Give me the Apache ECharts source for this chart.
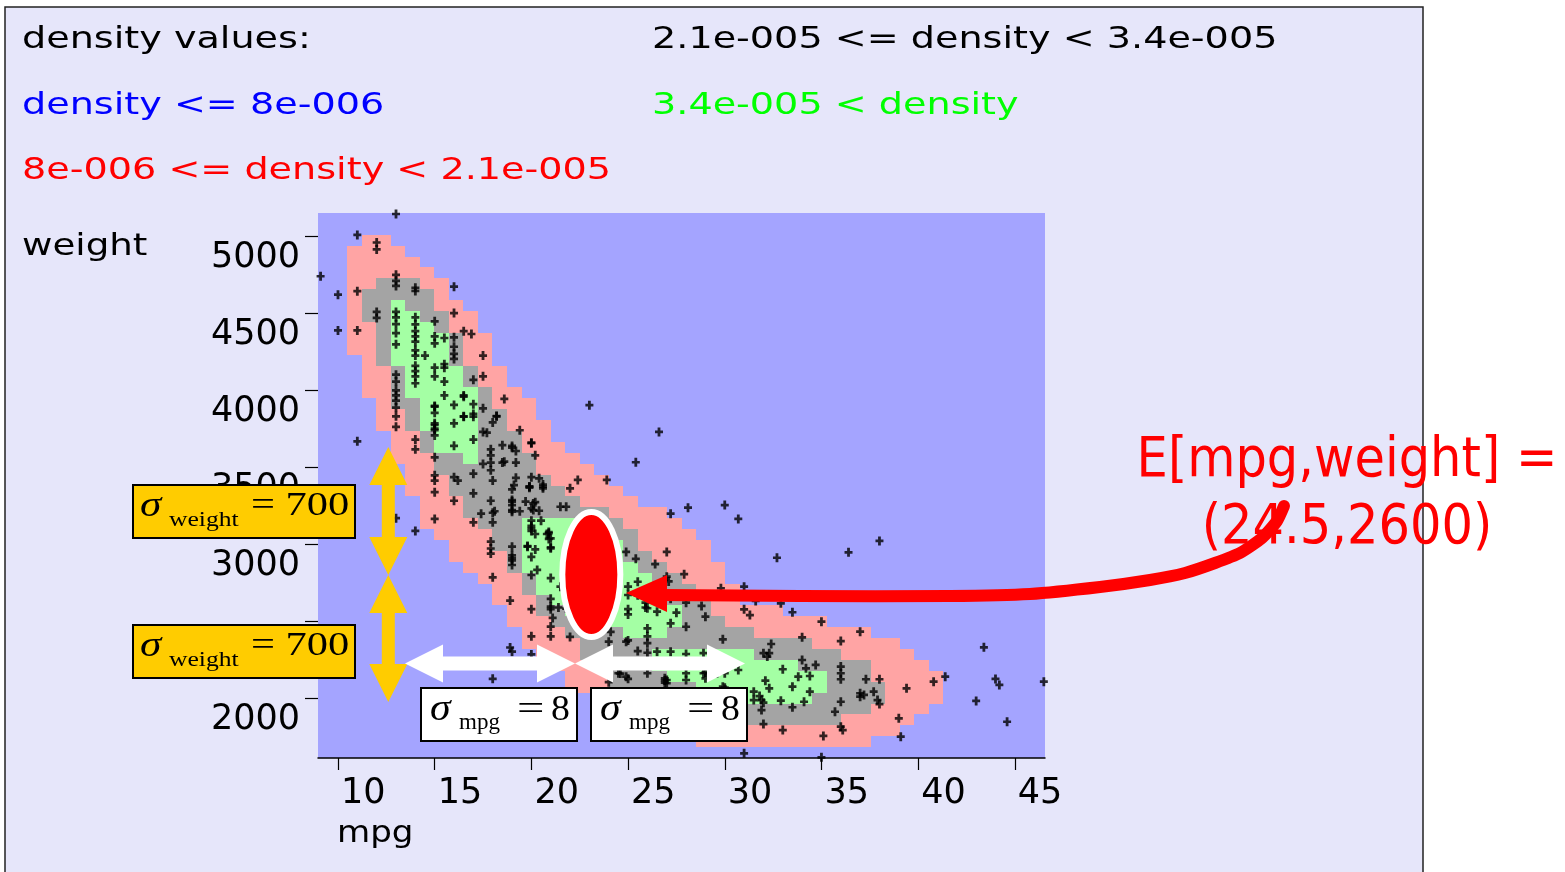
<!DOCTYPE html>
<html><head><meta charset="utf-8">
<script src="https://cdn.jsdelivr.net/npm/echarts@6/dist/echarts.min.js"></script>
<style>html,body{margin:0;padding:0;background:#fff}#c{width:1565px;height:872px}</style>
</head><body><div id="c"></div>
<script>
// ---------------- data ----------------
const xTicks = [10, 15, 20, 25, 30, 35, 40, 45];
const yTicks = [2000, 2500, 3000, 3500, 4000, 4500, 5000];
const xMin = 8.966, xMax = 46.56, yMin = 1613.6, yMax = 5152.6;

const legendTitle = 'density values:';
const legendLow = 'density <= 8e-006';
const legendMid = '8e-006 <= density < 2.1e-005';
const legendHigh = '2.1e-005 <= density < 3.4e-005';
const legendTop = '3.4e-005 < density';
const xName = 'mpg';
const yName = 'weight';
const meanLine1 = 'E[mpg,weight] =';
const meanLine2 = '(24.5,2600)';
const sigmaWeight = 700;
const sigmaMpg = 8;
const meanPoint = [23.1, 2805];

// density grid: 50 x 50 cells covering the plot
const cellMpgStart = 8.966, cellMpgStep = 0.75188;
const cellWeightTop = 5152.6, cellWeightStep = 70.78;

// [row (from top), first column, last column]
const band1Spans = [
 [2,3,4],[3,2,5],[4,2,6],[5,2,7],[6,2,8],[7,2,8],[8,2,9],[9,2,10],[10,2,10],[11,2,11],
 [12,2,11],[13,3,11],[14,3,12],[15,3,12],[16,3,13],[17,4,14],[18,4,14],[19,4,15],[20,5,15],[21,5,16],
 [22,5,17],[23,6,18],[24,6,19],[25,6,20],[26,7,21],[27,7,23],[28,7,24],[29,8,25],[30,9,26],[31,9,26],
 [32,10,27],[33,11,27],[34,12,28],[35,12,28],[36,13,31],[37,13,34],[38,14,37],[39,14,39],[40,15,40],[41,16,41],
 [42,17,42],[43,17,42],[44,19,42],[45,21,41],[46,23,40],[47,25,39],[48,26,37]
];
const band2Spans = [
 [6,4,6],[7,3,7],[8,3,7],[9,3,8],[10,4,8],[11,4,9],[12,4,9],[13,4,9],[14,5,10],[15,5,10],
 [16,5,11],[17,5,11],[18,6,12],[19,6,12],[20,7,13],[21,7,13],[22,8,14],[23,8,14],[24,9,15],[25,9,16],
 [26,10,17],[27,10,19],[28,11,20],[29,12,21],[30,12,21],[31,13,22],[32,13,23],[33,14,24],[34,14,25],[35,15,26],
 [36,15,26],[37,16,27],[38,17,29],[39,18,33],[40,18,35],[41,19,37],[42,20,37],[43,20,38],[44,21,38],[45,22,37],[46,24,35]
];
const band3Spans = [
 [8,5,5],[9,5,6],[10,5,7],[11,5,8],[12,5,8],[13,5,8],[14,6,9],[15,6,9],[16,6,10],[17,7,10],
 [18,7,10],[19,7,10],[20,8,10],[21,8,10],[22,10,10],
 [28,14,17],[29,14,18],[30,14,20],[31,14,20],[32,14,21],[33,15,22],[34,15,22],[35,16,23],[36,17,24],[37,18,24],[38,21,23],
 [40,23,29],[41,23,32],[42,24,34],[43,26,34],[44,28,33]
];

// [mpg, weight]
const carPoints = [
 [13.0,5146],[11.0,5010],[12.0,4961],[12.0,4916],[9.1,4742],[13.0,4751],[13.0,4712],[13.0,4679],[14.0,4667],[14.0,4646],
 [16.0,4674],[10.0,4622],[11.0,4645],[12.0,4510],[12.0,4471],[10.0,4390],[11.0,4390],[13.0,4510],[13.0,4475],[13.0,4431],
 [13.0,4373],[13.0,4300],[14.0,4475],[14.0,4430],[14.0,4385],[14.0,4351],[14.0,4317],[14.0,4261],[14.0,4227],[14.0,4160],
 [14.0,4126],[14.0,4092],[14.0,4047],[15.0,4449],[15.0,4351],[15.0,4306],[15.5,4341],[16.0,4345],[16.0,4284],[16.0,4238],
 [16.0,4205],[16.5,4385],[16.9,4367],[16.0,4503],[14.5,4227],[15.5,4171],[15.5,4148],[15.0,4148],[15.0,4092],[17.5,4227],
 [17.0,4069],[17.5,4092],[15.5,4058],[13.0,4103],[13.0,4058],[13.0,4001],[13.0,3968],[13.0,3934],[13.0,3889],[13.0,3832],
 [13.0,3764],[14.0,3681],[14.0,3618],[11.0,3670],[15.5,3968],[16.5,3968],[17.0,3911],[17.0,3848],[15.0,3900],[15.0,3855],
 [16.0,3787],[15.0,3787],[15.0,3753],[15.0,3708],[16.5,3832],[17.0,3681],[16.0,3641],[18.6,3945],[18.2,3832],[17.5,3731],
 [19.4,3742],[20.0,3658],[20.2,3579],[17.9,3618],[17.9,3579],[18.5,3645],[19.0,3629],[19.2,3607],[18.5,3532],[17.9,3532],
 [17.9,3482],[17.5,3523],[19.2,3532],[15.0,3566],[15.0,3449],[15.0,3415],[16.0,3437],[16.2,3415],[17.0,3460],[15.0,3340],
 [16.0,3284],[18.0,3415],[19.2,3433],[19.9,3377],[20.6,3389],[20.6,3365],[20.0,3437],[19.0,3358],[19.0,3279],[19.7,3279],
 [19.4,3216],[17.9,3284],[17.4,3200],[18.1,3216],[17.0,3144],[18.0,3144],[15.0,3166],[14.0,3088],[13.0,3171],[20.2,3275],
 [21.5,3245],[21.8,3245],[22.4,3419],[22.0,3365],[23.9,3419],[23.0,3905],[26.6,3731],[25.4,3534],[27.2,3200],
 [20.0,3155],[20.0,3121],[20.0,3088],[20.5,3155],[20.9,3081],[20.9,3036],[19.8,2990],[20.2,2968],[17.9,3019],[17.9,2974],
 [17.9,2941],[19.0,2929],[19.0,2896],[20.0,2919],[20.3,2835],[18.0,2787],[21.0,2782],[18.9,2636],[20.0,2580],[21.0,2647],
 [21.4,2591],[21.0,2580],[21.1,2523],[21.0,2467],[21.8,2584],[20.0,2404],[21.0,2404],[22.0,2400],[18.9,2331],[20.0,2286],
 [18.0,2128],[24.1,2433],[25.0,2377],[25.0,2727],[25.0,2580],[25.0,2546],[25.9,2591],[25.5,2670],[26.0,2455],[26.0,2404],
 [25.4,2907],[26.4,2873],[24.9,2952],[27.0,2952],[25.5,2308],[26.0,2297],[26.9,2117],[24.6,2162],[24.0,2106],[25.0,2128],
 [27.1,2760],[27.2,2647],
 [17.0,3332],[18.0,3206],[19.0,3289],[19.0,3256],[19.0,3213],[19.0,2986],[19.0,2910],[19.0,2867],[18.6,3538],[19.0,3640],
 [20.0,3661],[20.0,3235],[20.4,3219],[20.6,3375],[20.4,3430],[19.9,3369],[17.0,3830],[17.5,3884],[16.5,3830],[17.7,3726],
 [18.2,3834],[18.0,3793],[15.0,3895],[16.0,3906],[16.5,3960],[15.0,3776],[15.0,3743],
 [28.1,3239],[30.0,3256],[30.7,3166],[38.0,3023],[36.4,2949],[32.7,2914],[27.0,2791],[27.9,2807],[31.0,2726],[29.8,2716],
 [31.6,2633],[32.9,2618],[31.0,2579],[31.3,2542],[33.5,2560],[28.0,2622],[28.8,2601],[27.5,2557],[28.0,2466],[29.0,2531],
 [27.2,2488],[35.0,2499],[37.0,2434],[36.0,2373],[34.0,2397],[32.4,2354],[29.9,2384],[32.0,2294],[32.2,2272],[32.3,2294],
 [34.0,2250],[34.2,2196],[34.7,2218],[36.0,2207],[36.0,2164],[36.0,2125],[33.0,2190],[33.8,2142],[34.4,2146],[33.5,2077],
 [34.4,2044],[34.1,1979],[32.1,2116],[32.3,2066],[32.9,1986],[31.5,2044],[31.8,2016],[31.9,1990],[32.0,1973],[31.5,1990],
 [31.9,1925],[33.5,1943],[35.7,1914],[36.0,1979],[37.0,2034],[37.0,2012],[37.2,2023],[37.7,2044],[38.0,2125],[37.3,2125],
 [37.9,1990],[38.0,1964],[39.4,2066],[40.8,2109],[41.4,2142],[39.0,1871],[39.1,1752],[36.0,1817],[36.1,1795],[35.1,1757],
 [33.0,1795],[32.0,1834],[31.0,1644],[35.0,1618],[43.4,2332],[44.0,2127],[44.2,2088],[43.0,1984],[44.6,1849],[46.5,2109],
 [27.0,2120],[27.0,2099],[28.0,2164],[28.0,2120],[28.0,2289],[27.2,2304],[29.0,2168],[29.9,2077],[29.5,2023],[30.7,2185],
 [21.0,3040],[21.0,2982],[20.8,3068],[25.5,2758],[25.9,2622],[26.0,2586],
 [19.1,3386],[19.9,3375],[19.0,3224],[20.1,3267],[20.1,3224],[20.0,3105],[20.2,3068],[20.9,3073],[19.8,2986],[21.0,2975],
 [20.0,2802],[21.5,2726],[21.0,2596],[19.0,2304],[25.0,2672],[26.5,2564],[26.0,2359],[24.9,2369],[26.5,2304],[24.5,2164],
 [24.9,2142],[26.0,2164],[24.0,2369],[26.9,2131],[26.9,2103],[28.9,2164],[29.6,2164],[30.0,2164],[30.0,2070],[28.9,2294],
 [29.4,2282],[29.0,2131]
];

// ---------------- chart ----------------
const chart = echarts.init(document.getElementById('c'), null, {renderer: 'canvas'});

function spanRenderer(color) {
  return function (params, api) {
    const row = api.value(0), c0 = api.value(1), c1 = api.value(2);
    const xL = cellMpgStart + c0 * cellMpgStep;
    const xR = cellMpgStart + (c1 + 1) * cellMpgStep;
    const yT = cellWeightTop - row * cellWeightStep;
    const yB = yT - cellWeightStep;
    const p0 = api.coord([xL, yT]);
    const p1 = api.coord([xR, yB]);
    const x = Math.round(p0[0]), y = Math.round(p0[1]);
    return {
      type: 'rect',
      shape: {x: x, y: y, width: Math.round(p1[0]) - x, height: Math.round(p1[1]) - y},
      style: {fill: color}
    };
  };
}

const SANS = "'DejaVu Sans', Verdana, sans-serif";
const SERIF = "'Liberation Serif', 'Times New Roman', serif";

function txt(text, x, y, color, size, sx, family, opts) {
  opts = opts || {};
  return {
    type: 'text', x: x, y: y, scaleX: sx, z: 100,
    style: {
      text: text, fill: color,
      font: (opts.style || 'normal') + ' ' + size + 'px ' + family,
      textAlign: opts.align || 'left', align: opts.align || 'left',
      textVerticalAlign: 'middle', verticalAlign: 'middle'
    }
  };
}

function vDoubleArrow(cx, yTop, yBot, color) {
  const hl = 38, hw = 19, sw = 6.5;
  return {
    type: 'polygon', z: 100,
    shape: {points: [
      [cx, yTop], [cx + hw, yTop + hl], [cx + sw, yTop + hl], [cx + sw, yBot - hl], [cx + hw, yBot - hl],
      [cx, yBot], [cx - hw, yBot - hl], [cx - sw, yBot - hl], [cx - sw, yTop + hl], [cx - hw, yTop + hl]
    ]},
    style: {fill: color}
  };
}
function hDoubleArrow(cy, xL, xR, color) {
  const hl = 38, hw = 19, sw = 7;
  return {
    type: 'polygon', z: 100,
    shape: {points: [
      [xL, cy], [xL + hl, cy - hw], [xL + hl, cy - sw], [xR - hl, cy - sw], [xR - hl, cy - hw],
      [xR, cy], [xR - hl, cy + hw], [xR - hl, cy + sw], [xL + hl, cy + sw], [xL + hl, cy + hw]
    ]},
    style: {fill: color}
  };
}

function sigmaWeightBox(dy) {
  return [
    {type: 'rect', z: 100, shape: {x: 133, y: 485 + dy, width: 222, height: 53},
     style: {fill: '#ffcc00', stroke: '#000', lineWidth: 2}},
    txt('σ', 140, 507 + dy, '#000', 36, 1.2, SERIF, {style: 'italic'}),
    txt('weight', 169, 520 + dy, '#000', 21, 1.22, SERIF),
    txt('= ' + sigmaWeight, 251, 506 + dy, '#000', 34, 1.25, SERIF)
  ];
}
function sigmaMpgBox(dx) {
  return [
    {type: 'rect', z: 100, shape: {x: 421 + dx, y: 688, width: 156, height: 53},
     style: {fill: '#fff', stroke: '#000', lineWidth: 2}},
    txt('σ', 430 + dx, 710, '#000', 38, 1.1, SERIF, {style: 'italic'}),
    txt('mpg', 459 + dx, 723, '#000', 23, 1.0, SERIF),
    txt('=', 517 + dx, 711, '#000', 36, 1.35, SERIF),
    txt(String(sigmaMpg), 551 + dx, 711, '#000', 36, 1.05, SERIF)
  ];
}

const option = {
  animation: false,
  backgroundColor: '#ffffff',
  grid: {left: 318, top: 213, width: 727, height: 545, show: true,
         backgroundColor: '#a4a4ff', borderWidth: 0},
  xAxis: {
    type: 'value', min: xMin, max: xMax,
    axisLine: {show: true, onZero: false, lineStyle: {color: '#000', width: 1.5}},
    axisTick: {show: true, customValues: xTicks, length: 12, lineStyle: {color: '#000', width: 1.2}},
    axisLabel: {show: true, customValues: xTicks, align: 'left', margin: 18,
                padding: [0, 0, 0, 3], color: '#000', fontSize: 35, fontFamily: SANS,
                formatter: function (v) { return String(v); }},
    splitLine: {show: false}
  },
  yAxis: {
    type: 'value', min: yMin, max: yMax,
    axisLine: {show: false},
    axisTick: {show: true, customValues: yTicks, length: 13, lineStyle: {color: '#000', width: 1.2}},
    axisLabel: {show: true, customValues: yTicks, margin: 18, verticalAlign: 'top',
                padding: [4, 0, 0, 0],
                color: '#000', fontSize: 35, fontFamily: SANS,
                formatter: function (v) { return String(v); }},
    splitLine: {show: false}
  },
  series: [
    {type: 'custom', z: 2, renderItem: spanRenderer('#ffa4a4'), data: band1Spans, silent: true},
    {type: 'custom', z: 2, renderItem: spanRenderer('#a4a4a4'), data: band2Spans, silent: true},
    {type: 'custom', z: 2, renderItem: spanRenderer('#a4ffa4'), data: band3Spans, silent: true},
    {type: 'scatter', z: 5, data: carPoints, silent: true,
     symbol: 'path://M2.6,0H5.4V2.8H8V5.2H5.4V8H2.6V5.2H0V2.8H2.6Z',
     symbolSize: [8, 9], itemStyle: {color: '#000'}}
  ]
};
chart.setOption(option);

// annotations (after layout so the mean ellipse can use the axes)
const mp = chart.convertToPixel({gridIndex: 0}, meanPoint);
const graphics = [
  {type: 'rect', z: -100, shape: {x: 5, y: 7, width: 1418, height: 880},
   style: {fill: '#e6e6fa', stroke: '#222', lineWidth: 1.5}},
  txt(legendTitle, 22, 40, '#000', 31, 1.23, SANS),
  txt(legendHigh, 652, 40, '#000', 31, 1.23, SANS),
  txt(legendLow, 22, 106, '#0000ff', 31, 1.23, SANS),
  txt(legendTop, 652, 106, '#00ff00', 31, 1.23, SANS),
  txt(legendMid, 22, 171, '#ff0000', 31, 1.23, SANS),
  txt(yName, 22, 247, '#000', 31, 1.2, SANS),
  txt(xName, 337, 834, '#000', 31, 1.1, SANS),
  vDoubleArrow(388.3, 447, 575, '#ffcc00'),
  vDoubleArrow(388.3, 575, 702, '#ffcc00'),
  hDoubleArrow(663.5, 405, 575, '#ffffff'),
  hDoubleArrow(663.5, 575, 745, '#ffffff'),
  {type: 'ellipse', z: 100, shape: {cx: mp[0], cy: mp[1], rx: 29, ry: 62.5},
   style: {fill: '#ff0000', stroke: '#ffffff', lineWidth: 6}},
  {type: 'polyline', z: 100,
   shape: {points: [[660,595],[800,596],[950,596],[1030,594],[1100,587],[1150,580],[1185,573],
                    [1215,563],[1240,553],[1262,538],[1277,521],[1284,506]], smooth: 0.2},
   style: {stroke: '#ff0000', lineWidth: 12, fill: null, lineCap: 'round', lineJoin: 'round'}},
  {type: 'polygon', z: 100, shape: {points: [[626, 593], [667, 575], [667, 612]]},
   style: {fill: '#ff0000'}},
  txt(meanLine1, 1347, 462, '#ff0000', 55, 0.9, SANS, {align: 'center'}),
  txt(meanLine2, 1347, 529, '#ff0000', 55, 0.9, SANS, {align: 'center'})
].concat(sigmaWeightBox(0), sigmaWeightBox(140), sigmaMpgBox(0), sigmaMpgBox(170));

chart.setOption({graphic: {elements: graphics}});
</script>
</body></html>
